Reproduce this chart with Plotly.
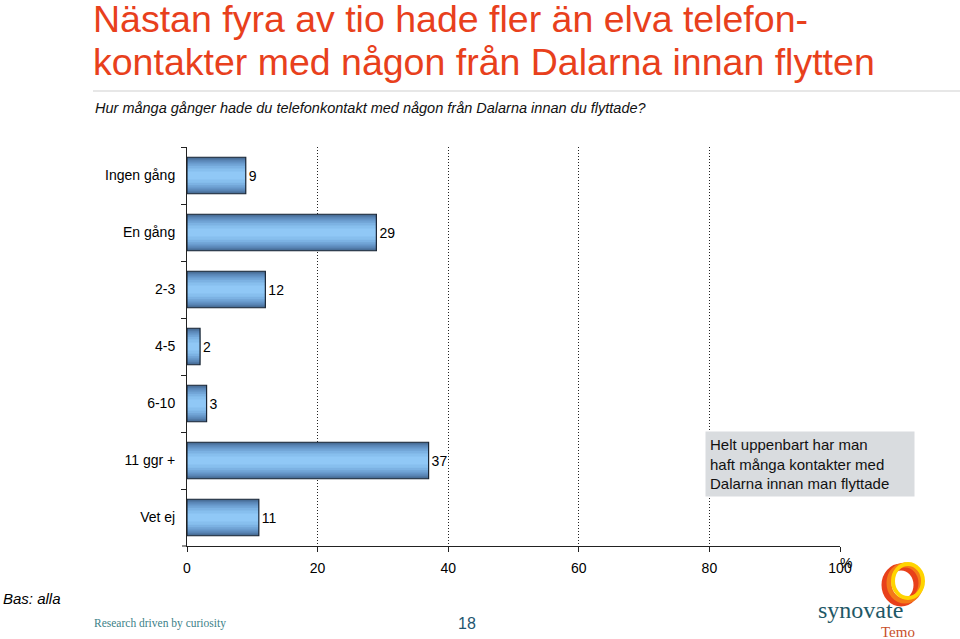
import plotly.graph_objects as go

# chart data
categories = ["Ingen gång", "En gång", "2-3", "4-5", "6-10", "11 ggr +", "Vet ej"]
values = [9, 29, 12, 2, 3, 37, 11]
x_ticks = [0, 20, 40, 60, 80, 100]

W, H = 960, 639
PLOT = dict(l=187, r=840, t=147, b=546)   # plot area in pixels

FONT = "Liberation Sans, Arial, sans-serif"
SERIF = "Liberation Serif, Times New Roman, serif"
RED = "#e8401c"

# bar gradient, drawn as overlaid bars from edge (dark) to centre (light)
GRAD = [(0.64, "#45688f"), (0.60, "#4f77a3"), (0.55, "#5985b5"),
        (0.49, "#6494c6"), (0.42, "#70a3d5"), (0.34, "#7cb2e3"),
        (0.25, "#87bfee"), (0.14, "#90c8f6")]


def px(x, y):
    """pixel -> paper coordinates"""
    return ((x - PLOT["l"]) / (PLOT["r"] - PLOT["l"]),
            (PLOT["b"] - y) / (PLOT["b"] - PLOT["t"]))


fig = go.Figure()
for w, c in GRAD:
    fig.add_trace(go.Bar(
        y=categories, x=values, orientation="h", width=w,
        marker=dict(color=c, line=dict(width=0)),
        hoverinfo="skip", showlegend=False,
    ))
# outline + value labels
fig.add_trace(go.Bar(
    y=categories, x=values, orientation="h", width=GRAD[0][0],
    marker=dict(color="rgba(0,0,0,0)", line=dict(color="#1a2635", width=1.2)),
    text=values, textposition="outside", cliponaxis=False,
    textfont=dict(family=FONT, size=14, color="black"),
    showlegend=False,
    hovertemplate="%{y}: %{x}%<extra></extra>",
))

annotations = []


def note(x, y, text, size=14, color="black", family=FONT, xanchor="left", italic=False):
    xp, yp = px(x, y)
    if italic:
        text = "<i>" + text + "</i>"
    annotations.append(dict(
        x=xp, y=yp, xref="paper", yref="paper", text=text, showarrow=False,
        xanchor=xanchor, yanchor="middle", align="left",
        font=dict(family=family, size=size, color=color),
    ))


note(91, 19, "Nästan fyra av tio hade fler än elva telefon-", 37.5, RED)
note(91, 62, "kontakter med någon från Dalarna innan flytten", 37.5, RED)
note(93, 108, "Hur många gånger hade du telefonkontakt med någon från Dalarna innan du flyttade?",
     14.5, "#111111", italic=True)
note(838, 563, "%", 14)
note(1, 598, "Bas: alla", 15, italic=True)
note(92, 623, "Research driven by curiosity", 11.5, "#3d7f88", SERIF)
note(467, 623, "18", 16, "#1e5670", xanchor="center")
note(816, 610, "synovate", 24, "#1f5866", SERIF)
note(879, 632, "Temo", 15, "#c8502a", SERIF)

bx, by = px(705, 464)
annotations.append(dict(
    x=bx, y=by, xref="paper", yref="paper", xanchor="left", yanchor="middle",
    text="Helt uppenbart har man<br>haft många kontakter med<br>Dalarna innan man flyttade",
    showarrow=False, align="left", bgcolor="#d9dcdf", borderpad=4, width=200,
    font=dict(family=FONT, size=15, color="#111111"),
))

shapes = []
x0, y0 = px(93, 91)
x1, _ = px(960, 91)
shapes.append(dict(type="line", xref="paper", yref="paper", x0=x0, x1=x1, y0=y0, y1=y0,
                   line=dict(color="#cfcfcf", width=1)))
# short stub of the x axis line left of the y axis
xa, ya = px(182, 546)
shapes.append(dict(type="line", xref="paper", yref="paper", x0=xa, x1=0, y0=ya, y1=ya,
                   line=dict(color="#222", width=1)))


def ring(cx, cy, rx, ry, color, width):
    a, b = px(cx - rx, cy + ry)
    c, d = px(cx + rx, cy - ry)
    shapes.append(dict(type="circle", xref="paper", yref="paper", x0=a, y0=b, x1=c, y1=d,
                       line=dict(color=color, width=width)))


ring(901, 585, 16, 18, "#e8401a", 7)
ring(905, 583, 16, 18, "#f47a18", 5)
ring(908, 581, 15, 17, "#ffd400", 4)

fig.update_layout(
    width=W, height=H,
    margin=dict(l=PLOT["l"], r=W - PLOT["r"], t=PLOT["t"], b=H - PLOT["b"]),
    plot_bgcolor="white", paper_bgcolor="white",
    barmode="overlay",
    xaxis=dict(
        range=[0, 100], tickvals=x_ticks, ticks="outside", ticklen=5,
        tickcolor="#222", showline=True, linecolor="#222", linewidth=1,
        showgrid=True, gridcolor="#222", griddash="1px,2px", gridwidth=1,
        zeroline=False, ticklabelstandoff=4,
        tickfont=dict(family=FONT, size=14, color="black"),
    ),
    yaxis=dict(
        categoryorder="array", categoryarray=categories, autorange="reversed",
        ticks="outside", tickson="boundaries", ticklen=5, tickcolor="#222",
        showline=True, linecolor="#222", linewidth=1, showgrid=False,
        ticklabelstandoff=8,
        tickfont=dict(family=FONT, size=14, color="black"),
    ),
    annotations=annotations,
    shapes=shapes,
)

# page body has a default 8px margin; drop it so the figure sits at the window origin
fig.write_html("out.html", config={"displayModeBar": False},
               post_script="document.body.style.margin='0';")
